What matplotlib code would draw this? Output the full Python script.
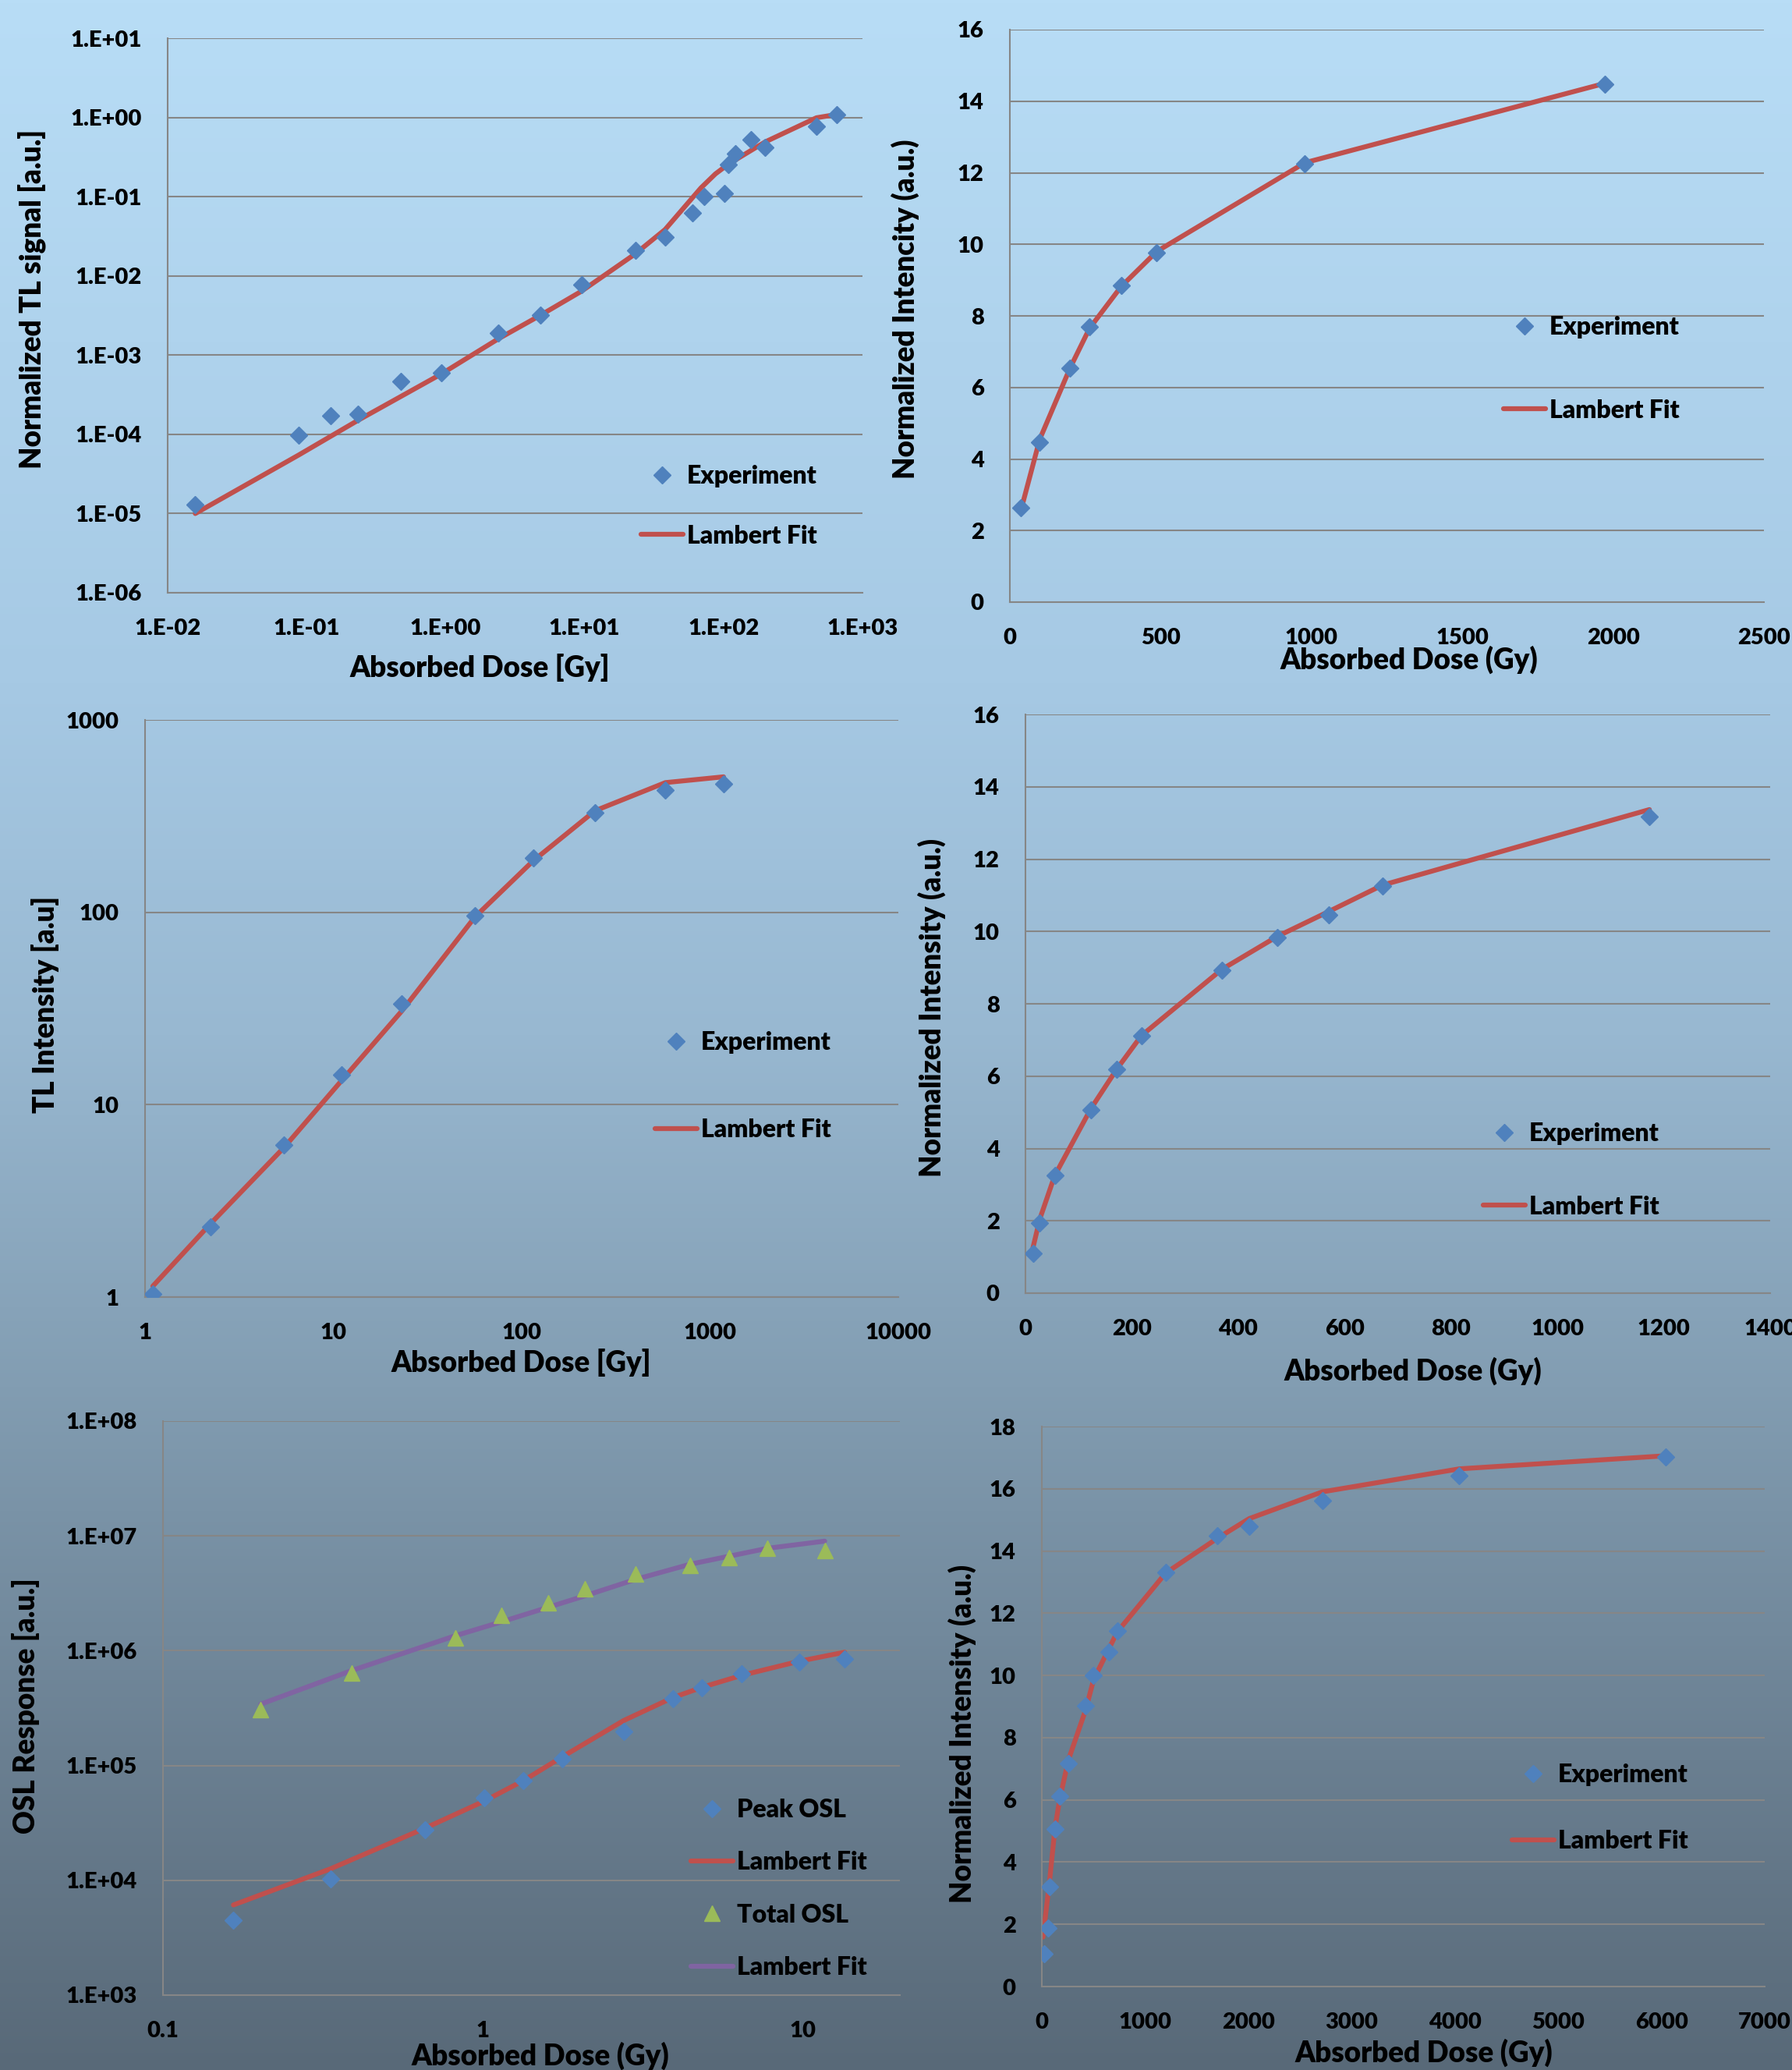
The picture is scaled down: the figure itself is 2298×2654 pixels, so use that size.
import numpy as np
import matplotlib
matplotlib.use("Agg")
import matplotlib.pyplot as plt
from matplotlib.font_manager import FontProperties

plt.rcParams['font.family'] = ['Lato', 'DejaVu Sans']
plt.rcParams['font.weight'] = 'bold'

W, H = 2298, 2654
DPI = 100

# ---------------- data ----------------
# Panel 1 (top-left): log-log TL signal
tl_exp_x = [0.0158, 0.088, 0.149, 0.234, 0.474, 0.935, 2.39, 4.84, 9.5, 23.2, 38, 59.7, 72.3, 101, 108, 121, 158, 199, 466, 650]
tl_exp_y = [1.3e-5, 9.8e-5, 1.7e-4, 1.8e-4, 4.7e-4, 6.0e-4, 1.9e-3, 3.2e-3, 7.7e-3, 0.021, 0.031, 0.0625, 0.10, 0.109, 0.256, 0.35, 0.52, 0.42, 0.78, 1.09]
tl_fit_x = [0.0158, 0.088, 0.234, 0.935, 2.39, 4.84, 9.5, 23.2, 38, 68.8, 87.5, 108, 199, 466, 650]
tl_fit_y = [1.0e-5, 5.5e-5, 1.5e-4, 5.8e-4, 1.6e-3, 3.2e-3, 6.4e-3, 0.019, 0.0385, 0.129, 0.194, 0.256, 0.49, 0.99, 1.09]
tl_xticks = [1e-2, 1e-1, 1e0, 1e1, 1e2, 1e3]
tl_xlabels = ["1.E-02", "1.E-01", "1.E+00", "1.E+01", "1.E+02", "1.E+03"]
tl_yticks = [1e-6, 1e-5, 1e-4, 1e-3, 1e-2, 1e-1, 1e0, 1e1]
tl_ylabels = ["1.E-06", "1.E-05", "1.E-04", "1.E-03", "1.E-02", "1.E-01", "1.E+00", "1.E+01"]

# Panel 2 (top-right)
tr_exp_x = [36, 99, 200, 264, 369, 487, 978, 1973]
tr_exp_y = [2.64, 4.47, 6.55, 7.69, 8.84, 9.77, 12.24, 14.47]
tr_fit_x = [44, 99, 200, 264, 369, 487, 978, 1973]
tr_fit_y = [2.80, 4.55, 6.55, 7.65, 8.82, 9.80, 12.28, 14.50]
tr_xticks = [0, 500, 1000, 1500, 2000, 2500]
tr_yticks = [0, 2, 4, 6, 8, 10, 12, 14, 16]

# Panel 3 (middle-left): log-log TL intensity
ml_exp_x = [1.1, 2.23, 5.47, 11.1, 23.1, 56.5, 115, 245, 579, 1180]
ml_exp_y = [1.04, 2.32, 6.15, 14.3, 33.3, 95.6, 192, 328, 433, 467]
ml_fit_x = [1.1, 2.23, 5.47, 11.1, 23.1, 56.5, 115, 245, 579, 1180]
ml_fit_y = [1.14, 2.41, 5.99, 13.4, 30.7, 94.6, 185, 337, 472, 506]
ml_xticks = [1, 10, 100, 1000, 10000]
ml_xlabels = ["1", "10", "100", "1000", "10000"]
ml_yticks = [1, 10, 100, 1000]
ml_ylabels = ["1", "10", "100", "1000"]

# Panel 4 (middle-right)
mr_exp_x = [14, 27, 55, 123, 172, 218, 369, 473, 570, 671, 1173]
mr_exp_y = [1.11, 1.94, 3.25, 5.07, 6.18, 7.12, 8.93, 9.84, 10.45, 11.25, 13.18]
mr_fit_x = [14, 27, 55, 123, 172, 218, 369, 473, 570, 671, 1173]
mr_fit_y = [1.25, 2.05, 3.25, 5.10, 6.20, 7.12, 8.95, 9.86, 10.55, 11.28, 13.37]
mr_xticks = [0, 200, 400, 600, 800, 1000, 1200, 1400]
mr_yticks = [0, 2, 4, 6, 8, 10, 12, 14, 16]

# Panel 5 (bottom-left): OSL response
bl_peak_x = [0.166, 0.334, 0.66, 1.01, 1.34, 1.77, 2.75, 3.92, 4.84, 6.44, 9.75, 13.5]
bl_peak_y = [4.5e3, 1.03e4, 2.75e4, 5.25e4, 7.4e4, 1.15e5, 1.97e5, 3.83e5, 4.72e5, 6.3e5, 7.9e5, 8.5e5]
bl_peak_fit_x = [0.166, 0.334, 0.66, 1.01, 1.34, 1.77, 2.75, 3.92, 4.84, 6.44, 9.75, 13.5]
bl_peak_fit_y = [6.1e3, 1.26e4, 2.85e4, 4.9e4, 7.4e4, 1.19e5, 2.46e5, 3.9e5, 4.8e5, 6.1e5, 8.1e5, 9.7e5]
bl_tot_x = [0.202, 0.388, 0.82, 1.14, 1.60, 2.08, 3.0, 4.45, 5.88, 7.76, 11.7]
bl_tot_y = [3.06e5, 6.35e5, 1.3e6, 2.05e6, 2.61e6, 3.45e6, 4.64e6, 5.57e6, 6.47e6, 7.83e6, 7.43e6]
bl_tot_fit_x = [0.202, 0.388, 0.82, 1.14, 2.08, 3.0, 4.45, 7.76, 11.7]
bl_tot_fit_y = [3.42e5, 6.7e5, 1.35e6, 1.78e6, 3.0e6, 4.18e6, 5.67e6, 7.8e6, 9.0e6]
bl_xticks = [0.1, 1, 10]
bl_xlabels = ["0.1", "1", "10"]
bl_yticks = [1e3, 1e4, 1e5, 1e6, 1e7, 1e8]
bl_ylabels = ["1.E+03", "1.E+04", "1.E+05", "1.E+06", "1.E+07", "1.E+08"]

# Panel 6 (bottom-right)
br_exp_x = [22, 60, 75, 128, 173, 257, 424, 502, 647, 731, 1199, 1701, 2008, 2716, 4043, 6040]
br_exp_y = [1.06, 1.89, 3.21, 5.07, 6.12, 7.18, 9.03, 10.0, 10.75, 11.43, 13.30, 14.49, 14.78, 15.61, 16.43, 17.03]
br_fit_x = [11, 72, 128, 173, 257, 424, 502, 647, 731, 1199, 1701, 2008, 2716, 4043, 6040]
br_fit_y = [1.59, 3.30, 5.11, 6.02, 7.28, 8.89, 9.87, 10.84, 11.4, 13.29, 14.41, 15.04, 15.90, 16.64, 17.06]
br_xticks = [0, 1000, 2000, 3000, 4000, 5000, 6000, 7000]
br_yticks = [0, 2, 4, 6, 8, 10, 12, 14, 16, 18]

# ---------------- style ----------------
RED = '#c0504d'
BLUE = '#4f81bd'
GREEN = '#9bbb59'
PURPLE = '#8064a2'
GRID = '#868686'
WEIGHT = 'heavy'
TICK_FS = 21
LAB_FS = 26.5
LEG_FS = 23

fig = plt.figure(figsize=(W / DPI, H / DPI), dpi=DPI)

# gradient background
bg = fig.add_axes([0, 0, 1, 1], zorder=-10)
stops = np.array([0.0, 0.33, 0.5, 0.67, 0.85, 1.0])
cols = np.array([[184, 221, 246], [166, 201, 228], [152, 184, 209],
                 [130, 157, 178], [106, 127, 145], [88, 105, 120]]) / 255.0
t = np.linspace(0, 1, 600)
grad = np.stack([np.interp(t, stops, cols[:, k]) for k in range(3)], axis=-1)
bg.imshow(grad[:, None, :], aspect='auto', extent=[0, 1, 0, 1], origin='upper')
bg.set_axis_off()


def make_ax(left, right, top, bottom):
    ax = fig.add_axes([left / W, 1 - bottom / H, (right - left) / W, (bottom - top) / H])
    ax.set_facecolor('none')
    for s in ['top', 'right']:
        ax.spines[s].set_visible(False)
    for s in ['left', 'bottom']:
        ax.spines[s].set_color(GRID)
        ax.spines[s].set_linewidth(1.5)
    ax.grid(True, axis='y', color=GRID, linewidth=1.5)
    ax.set_axisbelow(True)
    ax.tick_params(length=0, pad=24, labelsize=TICK_FS)
    return ax


def finish_ticks(ax, xt, xl, yt, yl):
    ax.minorticks_off()
    ax.set_xticks(xt)
    ax.set_xticklabels(xl, fontsize=TICK_FS, fontweight=WEIGHT)
    ax.set_yticks(yt)
    ax.set_yticklabels(yl, fontsize=TICK_FS, fontweight=WEIGHT)
    ax.minorticks_off()


def labels(ax, xtext, xc, ytext, yc):
    ax.set_xlabel(xtext, fontsize=LAB_FS, fontweight=WEIGHT)
    ax.xaxis.set_label_coords(xc[0] / W, 1 - xc[1] / H, transform=fig.transFigure)
    ax.xaxis.label.set_va('center')
    ax.xaxis.label.set_ha('center')
    ax.set_ylabel(ytext, fontsize=LAB_FS, fontweight=WEIGHT)
    ax.yaxis.set_label_coords(yc[0] / W, 1 - yc[1] / H, transform=fig.transFigure)
    ax.yaxis.label.set_va('center')
    ax.yaxis.label.set_ha('center')


def legend(ax, handles, labs, mx, my, pitch):
    fs_px = LEG_FS * DPI / 72.0
    L = 54.0
    hl = L / fs_px
    ls = (pitch - 1.2 * fs_px + 9) / fs_px
    left = mx - L / 2
    top = my - 0.6 * fs_px + 6
    ax.legend(handles, labs, loc='upper left', bbox_to_anchor=(left / W, 1 - top / H),
              bbox_transform=fig.transFigure, frameon=False, borderpad=0, borderaxespad=0,
              handlelength=hl, handletextpad=0.15, labelspacing=ls,
              prop=FontProperties(family=['Lato', 'DejaVu Sans'], weight=WEIGHT, size=LEG_FS))


def exp_fit(ax, ex, ey, fx, fy, mk='D', mc=BLUE, lc=RED, ms=11.5):
    ln, = ax.plot(fx, fy, color=lc, lw=4.5, solid_capstyle='round', zorder=2)
    pt, = ax.plot(ex, ey, ls='none', marker=mk, ms=ms, color=mc, mec=mc, zorder=3)
    return pt, ln


# Panel 1
ax = make_ax(215, 1106, 49, 760)
ax.set_xscale('log'); ax.set_yscale('log')
p, l = exp_fit(ax, tl_exp_x, tl_exp_y, tl_fit_x, tl_fit_y)
ax.set_xlim(1e-2, 1e3); ax.set_ylim(1e-6, 1e1)
finish_ticks(ax, tl_xticks, tl_xlabels, tl_yticks, tl_ylabels)
labels(ax, 'Absorbed Dose [Gy]', (615, 856), 'Normalized TL signal [a.u.]', (41, 383))
legend(ax, [p, l], ['Experiment', 'Lambert Fit'], 849, 609, 77)

# Panel 2
ax = make_ax(1295, 2262, 38, 772)
p, l = exp_fit(ax, tr_exp_x, tr_exp_y, tr_fit_x, tr_fit_y)
ax.set_xlim(0, 2500); ax.set_ylim(0, 16)
finish_ticks(ax, tr_xticks, [str(v) for v in tr_xticks], tr_yticks, [str(v) for v in tr_yticks])
labels(ax, 'Absorbed Dose (Gy)', (1807, 846), 'Normalized Intencity (a.u.)', (1161, 396))
legend(ax, [p, l], ['Experiment', 'Lambert Fit'], 1955, 418, 107)

# Panel 3
ax = make_ax(186, 1152, 923, 1663)
ax.set_xscale('log'); ax.set_yscale('log')
p, l = exp_fit(ax, ml_exp_x, ml_exp_y, ml_fit_x, ml_fit_y)
ax.set_xlim(1, 10000); ax.set_ylim(1, 1000)
finish_ticks(ax, ml_xticks, ml_xlabels, ml_yticks, ml_ylabels)
labels(ax, 'Absorbed Dose [Gy]', (668, 1747), 'TL Intensity [a.u]', (58, 1288))
legend(ax, [p, l], ['Experiment', 'Lambert Fit'], 867, 1335, 113)

# Panel 4
ax = make_ax(1315, 2270, 916, 1658)
p, l = exp_fit(ax, mr_exp_x, mr_exp_y, mr_fit_x, mr_fit_y)
ax.set_xlim(0, 1400); ax.set_ylim(0, 16)
finish_ticks(ax, mr_xticks, [str(v) for v in mr_xticks], mr_yticks, [str(v) for v in mr_yticks])
labels(ax, 'Absorbed Dose (Gy)', (1812, 1758), 'Normalized Intensity (a.u.)', (1195, 1292))
legend(ax, [p, l], ['Experiment', 'Lambert Fit'], 1929, 1452, 94)

# Panel 5
ax = make_ax(209, 1154, 1822, 2558)
ax.set_xscale('log'); ax.set_yscale('log')
p1, l1 = exp_fit(ax, bl_peak_x, bl_peak_y, bl_peak_fit_x, bl_peak_fit_y)
p2, l2 = exp_fit(ax, bl_tot_x, bl_tot_y, bl_tot_fit_x, bl_tot_fit_y, mk='^', mc=GREEN, lc=PURPLE, ms=15)
ax.set_xlim(0.1, 20.1); ax.set_ylim(1e3, 1e8)
finish_ticks(ax, bl_xticks, bl_xlabels, bl_yticks, bl_ylabels)
labels(ax, 'Absorbed Dose (Gy)', (693, 2636), 'OSL Response [a.u.]', (33, 2187))
legend(ax, [p1, l1, p2, l2], ['Peak OSL', 'Lambert Fit', 'Total OSL', 'Lambert Fit'], 913, 2319, 67.7)

# Panel 6
ax = make_ax(1336, 2263, 1829, 2547)
p, l = exp_fit(ax, br_exp_x, br_exp_y, br_fit_x, br_fit_y)
ax.set_xlim(0, 7000); ax.set_ylim(0, 18)
finish_ticks(ax, br_xticks, [str(v) for v in br_xticks], br_yticks, [str(v) for v in br_yticks])
labels(ax, 'Absorbed Dose (Gy)', (1826, 2632), 'Normalized Intensity (a.u.)', (1234, 2223))
legend(ax, [p, l], ['Experiment', 'Lambert Fit'], 1966, 2274, 86)

fig.savefig('out.png', dpi=DPI)
